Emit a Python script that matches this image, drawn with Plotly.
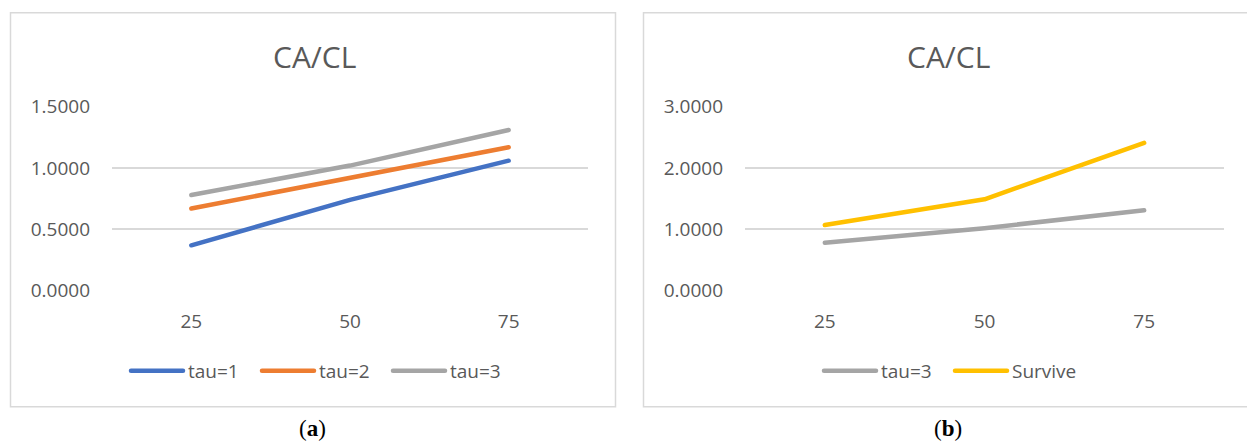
import plotly.graph_objects as go

W, H = 1247, 441

categories = ["25", "50", "75"]
tau1 = [0.37, 0.74, 1.06]
tau2 = [0.67, 0.92, 1.17]
tau3 = [0.78, 1.02, 1.31]
survive = [1.07, 1.49, 2.41]

title_text = "CA/CL"
panel_labels = ["(<b>a</b>)", "(<b>b</b>)"]

C_BLUE = "#4472C4"
C_ORANGE = "#ED7D31"
C_GRAY = "#A5A5A5"
C_YELLOW = "#FFC000"
GRID = "#D9D9D9"
TXT = "#595959"
FONT = "Open Sans"


def px(x):
    return x / W


def py(y):
    return (H - y) / H


fig = go.Figure()
lw = 4.5

fig.add_trace(go.Scatter(x=categories, y=tau1, name="tau=1", mode="lines",
                         line=dict(color=C_BLUE, width=lw), xaxis="x", yaxis="y", legend="legend"))
fig.add_trace(go.Scatter(x=categories, y=tau2, name="tau=2", mode="lines",
                         line=dict(color=C_ORANGE, width=lw), xaxis="x", yaxis="y", legend="legend"))
fig.add_trace(go.Scatter(x=categories, y=tau3, name="tau=3", mode="lines",
                         line=dict(color=C_GRAY, width=lw), xaxis="x", yaxis="y", legend="legend"))
fig.add_trace(go.Scatter(x=categories, y=tau3, name="tau=3", mode="lines",
                         line=dict(color=C_GRAY, width=lw), xaxis="x2", yaxis="y2", legend="legend2"))
fig.add_trace(go.Scatter(x=categories, y=survive, name="Survive", mode="lines",
                         line=dict(color=C_YELLOW, width=lw), xaxis="x2", yaxis="y2", legend="legend2"))

ydom = [py(290.7), py(106.7)]

xcommon = dict(type="category", range=[-0.5, 2.5], showgrid=False, zeroline=False,
               showline=False, ticks="", tickfont=dict(family=FONT, size=19, color=TXT),
               ticklabelstandoff=17, fixedrange=True, automargin=False)
ycommon = dict(showgrid=True, gridcolor=GRID, gridwidth=1.5, zeroline=False, showline=False,
               ticks="", tickformat=".4f", tickfont=dict(family=FONT, size=19, color=TXT),
               ticklabelstandoff=21, fixedrange=True, automargin=False)

legend_common = dict(orientation="h", yanchor="middle", y=py(371), xanchor="left",
                     font=dict(family=FONT, size=19, color=TXT), itemwidth=52,
                     entrywidth=64, entrywidthmode="pixels",
                     bgcolor="rgba(0,0,0,0)", traceorder="normal", borderwidth=0)

fig.update_layout(
    width=W, height=H,
    margin=dict(l=0, r=0, t=0, b=0, pad=0, autoexpand=False),
    paper_bgcolor="white", plot_bgcolor="white",
    xaxis=dict(domain=[px(112), px(588)], anchor="y", **xcommon),
    yaxis=dict(domain=ydom, anchor="x", range=[0, 1.5], dtick=0.5, **ycommon),
    xaxis2=dict(domain=[px(745), px(1224)], anchor="y2", **xcommon),
    yaxis2=dict(domain=ydom, anchor="x2", range=[0, 3.0], dtick=1.0, **ycommon),
    legend=dict(x=px(126), **legend_common),
    legend2=dict(x=px(819), **legend_common),
    showlegend=True,
)

# panel frames
for x0, x1 in [(10.5, 615.5), (643.5, 1252)]:
    fig.add_shape(type="rect", xref="paper", yref="paper",
                  x0=px(x0), x1=px(x1), y0=py(406.7), y1=py(12.7),
                  line=dict(color=GRID, width=1.5), fillcolor="rgba(0,0,0,0)", layer="below")

# titles
for cx in [314, 948]:
    fig.add_annotation(text=title_text, xref="paper", yref="paper", x=px(cx), y=py(56.5),
                       xanchor="center", yanchor="middle", showarrow=False,
                       font=dict(family=FONT, size=30, color=TXT))

# panel labels
for cx, lab in zip([312, 948], panel_labels):
    fig.add_annotation(text=lab, xref="paper", yref="paper", x=px(cx), y=py(428),
                       xanchor="center", yanchor="middle", showarrow=False,
                       font=dict(family="Liberation Serif", size=23, color="black"))

post = """
document.body.style.margin='0';
document.querySelectorAll('.scatterlayer path.js-line, .legendlines path').forEach(function(p){
  p.style.strokeLinecap='round'; p.style.strokeLinejoin='round';
});
"""

fig.write_html("out.html", config={"displayModeBar": False}, post_script=post)
